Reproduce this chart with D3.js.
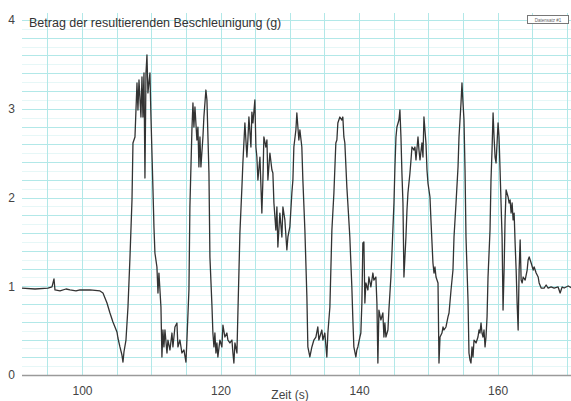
<!DOCTYPE html>
<html lang="de">
<head>
  <meta charset="UTF-8" />
  <title>Betrag der resultierenden Beschleunigung</title>
  <script src="https://d3js.org/d3.v7.min.js"></script>
  <style>
    body { margin: 0; background: #fff; }
    svg { display: block; font-family: "Liberation Sans", Arial, sans-serif; }
  </style>
</head>
<body>
  <svg width="571" height="401" id="chart"></svg>

  <script>
    // Zeit (s)
    const time = [
      91.34, 93.22, 95.09, 95.67, 95.96, 96.10, 96.83, 97.69, 98.27, 99.13,
      99.71, 101.15, 102.60, 103.03, 103.61, 104.04, 104.47, 105.05, 105.19, 105.48,
      105.77, 105.92, 106.06, 106.35, 106.64, 106.93, 107.22, 107.36, 107.65, 107.94,
      108.08, 108.23, 108.51, 108.66, 108.80, 108.95, 109.09, 109.24, 109.38, 109.52,
      109.81, 109.96, 110.25, 110.39, 110.53, 110.82, 110.97, 111.11, 111.40, 111.54,
      111.69, 111.83, 111.98, 112.27, 112.41, 112.70, 112.99, 113.13, 113.42, 113.71,
      113.85, 114.14, 114.43, 114.72, 115.01, 115.15, 115.44, 115.58, 115.87, 116.02,
      116.16, 116.31, 116.59, 116.74, 116.88, 117.03, 117.17, 117.46, 117.60, 117.89,
      118.04, 118.33, 118.47, 118.76, 118.90, 119.05, 119.19, 119.34, 119.48, 119.62,
      119.91, 120.20, 120.35, 120.63, 120.92, 121.07, 121.36, 121.65, 121.79, 121.93,
      122.08, 122.37, 122.51, 122.80, 123.09, 123.23, 123.52, 123.81, 123.95, 124.10,
      124.39, 124.53, 124.68, 124.96, 125.11, 125.25, 125.40, 125.69, 125.97, 126.12,
      126.26, 126.55, 126.70, 126.84, 127.13, 127.42, 127.56, 127.71, 127.99, 128.14,
      128.28, 128.57, 128.86, 129.01, 129.29, 129.58, 129.73, 130.01, 130.30, 130.45,
      130.59, 130.88, 131.02, 131.31, 131.46, 131.74, 131.89, 132.18, 132.47, 132.61,
      132.90, 133.19, 133.48, 133.77, 134.05, 134.20, 134.63, 134.78, 135.06, 135.35,
      135.50, 135.79, 136.08, 136.37, 136.65, 136.80, 136.94, 137.23, 137.52, 137.66,
      137.81, 137.95, 138.24, 138.38, 138.67, 138.82, 138.96, 139.11, 139.25, 139.54,
      139.68, 139.83, 140.12, 140.26, 140.41, 140.55, 140.70, 140.84, 140.99, 141.28,
      141.42, 141.71, 142.00, 142.14, 142.43, 142.58, 142.72, 142.87, 143.15, 143.44,
      143.59, 143.73, 143.88, 144.17, 144.31, 144.60, 144.75, 145.04, 145.18, 145.33,
      145.47, 145.76, 145.90, 146.05, 146.19, 146.34, 146.48, 146.77, 146.92, 147.06,
      147.35, 147.50, 147.64, 147.93, 148.07, 148.22, 148.51, 148.65, 148.80, 149.08,
      149.23, 149.37, 149.66, 149.81, 149.95, 150.24, 150.38, 150.67, 150.82, 150.96,
      151.11, 151.40, 151.54, 151.69, 151.97, 152.12, 152.26, 152.55, 152.84, 152.99,
      153.28, 153.56, 153.71, 154.00, 154.29, 154.43, 154.72, 154.86, 155.01, 155.15,
      155.30, 155.44, 155.73, 155.87, 156.02, 156.16, 156.31, 156.45, 156.60, 156.89,
      157.17, 157.32, 157.46, 157.61, 157.75, 157.90, 158.04, 158.19, 158.33, 158.48,
      158.62, 158.91, 159.05, 159.20, 159.35, 159.49, 159.64, 159.78, 160.07, 160.21,
      160.36, 160.50, 160.65, 160.79, 160.94, 161.08, 161.23, 161.52, 161.66, 161.81,
      161.95, 162.10, 162.24, 162.39, 162.53, 162.68, 162.82, 162.97, 163.11, 163.26,
      163.40, 163.55, 163.69, 163.98, 164.27, 164.41, 164.56, 164.85, 165.14, 165.28,
      165.57, 165.86, 166.00, 166.29, 166.72, 167.01, 167.30, 167.73, 168.16, 168.74,
      169.03, 169.32, 169.61, 170.19, 170.77
    ];

    // Betrag der resultierenden Beschleunigung (g)
    const accel = [
      0.980, 0.969, 0.980, 0.992, 1.082, 0.958, 0.947, 0.969, 0.958, 0.947,
      0.958, 0.958, 0.947, 0.924, 0.811, 0.699, 0.597, 0.485, 0.417, 0.316,
      0.225, 0.146, 0.259, 0.394, 0.766, 1.330, 1.972, 2.614, 2.682, 3.290,
      2.986, 3.324, 2.907, 3.358, 2.907, 3.403, 2.220, 3.403, 3.606, 3.178,
      3.403, 2.907, 2.085, 1.668, 1.375, 1.217, 0.924, 1.149, 0.766, 0.203,
      0.507, 0.316, 0.507, 0.248, 0.394, 0.282, 0.473, 0.316, 0.541, 0.586,
      0.316, 0.394, 0.248, 0.282, 0.146, 0.394, 0.958, 1.893, 2.761, 3.065,
      2.794, 3.020, 2.648, 2.794, 2.344, 2.682, 2.344, 2.682, 2.907, 3.211,
      3.099, 2.276, 1.330, 0.789, 0.473, 0.316, 0.473, 0.248, 0.361, 0.203,
      0.394, 0.316, 0.563, 0.428, 0.473, 0.394, 0.361, 0.394, 0.248, 0.135,
      0.361, 0.248, 0.699, 1.600, 2.118, 2.389, 2.840, 2.456, 2.648, 2.907,
      2.569, 2.963, 2.840, 3.099, 2.569, 2.456, 2.197, 2.456, 1.825, 2.197,
      2.682, 2.569, 2.648, 2.197, 2.501, 2.310, 2.276, 1.938, 1.634, 1.893,
      1.442, 1.825, 1.555, 1.893, 1.747, 1.409, 1.555, 1.668, 2.051, 2.197,
      2.569, 2.761, 2.952, 2.648, 2.761, 2.569, 2.197, 1.634, 0.879, 0.316,
      0.203, 0.316, 0.394, 0.428, 0.541, 0.394, 0.507, 0.394, 0.473, 0.203,
      0.473, 0.766, 1.634, 2.051, 2.614, 2.648, 2.840, 2.907, 2.873, 2.907,
      2.682, 2.614, 2.118, 1.938, 1.555, 1.262, 0.992, 0.620, 0.316, 0.203,
      0.282, 0.316, 0.428, 0.473, 0.811, 1.487, 1.499, 0.811, 1.037, 0.958,
      1.104, 0.992, 1.149, 1.070, 1.104, 0.811, 0.135, 0.732, 0.620, 0.699,
      0.428, 0.586, 0.428, 0.507, 0.732, 1.104, 1.375, 1.938, 2.344, 2.682,
      2.794, 2.873, 2.986, 2.682, 2.276, 1.938, 1.104, 1.555, 1.859, 2.051,
      2.276, 2.423, 2.569, 2.535, 2.569, 2.423, 2.682, 2.535, 2.423, 2.614,
      2.456, 2.907, 2.614, 2.310, 2.163, 2.006, 1.747, 1.262, 1.149, 1.217,
      1.104, 1.037, 0.135, 0.428, 0.473, 0.541, 0.507, 0.541, 0.654, 0.699,
      0.958, 1.183, 1.555, 1.938, 2.344, 2.682, 3.065, 3.290, 3.065, 2.873,
      2.310, 1.555, 0.845, 0.248, 0.169, 0.135, 0.316, 0.203, 0.394, 0.361,
      0.428, 0.507, 0.473, 0.586, 0.473, 0.428, 0.507, 0.316, 0.428, 0.654,
      1.104, 1.634, 2.197, 2.535, 2.952, 2.682, 2.456, 2.389, 2.840, 2.682,
      2.310, 1.938, 1.555, 0.732, 1.183, 1.747, 2.085, 2.006, 1.938, 1.972,
      1.825, 1.938, 1.747, 1.825, 1.487, 1.183, 0.811, 0.507, 1.183, 1.521,
      1.070, 1.037, 1.104, 1.070, 1.183, 1.296, 1.330, 1.262, 1.183, 1.217,
      1.149, 1.104, 1.037, 0.980, 0.980, 1.014, 0.980, 0.992, 0.980, 0.992,
      0.924, 0.992, 0.980, 1.003, 0.980
    ];

    const xTicks = [100, 120, 140, 160];
    const yTicks = [0, 1, 2, 3, 4];

    const svg = d3.select("#chart");
    const plotLeft = 22, plotRight = 571, plotBottom = 375, plotTop = 13;

    const x = d3.scaleLinear().domain([91.34, 170.6]).range([plotLeft, plotRight]);
    const y = d3.scaleLinear().domain([0, 4]).range([plotBottom, 20]);

    // grid
    const grid = svg.append("g");
    const minorY = d3.range(0, 41).map(i => i / 10);
    const majorY = d3.range(0, 21).map(i => i / 5);
    const majorX = d3.range(95, 171, 5);

    grid.selectAll(".minor-y").data(minorY).enter().append("line")
      .attr("x1", plotLeft).attr("x2", plotRight)
      .attr("y1", d => Math.round(y(d)) + 0.5).attr("y2", d => Math.round(y(d)) + 0.5)
      .attr("stroke", "#e6f7f7");

    grid.selectAll(".major-y").data(majorY).enter().append("line")
      .attr("x1", plotLeft).attr("x2", plotRight)
      .attr("y1", d => Math.round(y(d)) + 0.5).attr("y2", d => Math.round(y(d)) + 0.5)
      .attr("stroke", "#b2e8e8");

    grid.selectAll(".major-x").data(majorX).enter().append("line")
      .attr("x1", d => Math.round(x(d)) + 0.5).attr("x2", d => Math.round(x(d)) + 0.5)
      .attr("y1", plotTop).attr("y2", plotBottom)
      .attr("stroke", "#b2e8e8");

    // axes
    svg.append("line")
      .attr("x1", plotLeft).attr("x2", plotRight)
      .attr("y1", plotBottom + 0.5).attr("y2", plotBottom + 0.5)
      .attr("stroke", "#9a9a9a").attr("stroke-width", 1.5);

    const xAxis = svg.append("g")
      .attr("transform", `translate(0,${plotBottom})`)
      .call(d3.axisBottom(x).tickValues(xTicks).tickSize(0).tickPadding(11));
    xAxis.select(".domain").remove();
    xAxis.selectAll("text").attr("font-size", 12).attr("fill", "#444")
      .style("font-family", "'Liberation Sans', Arial, sans-serif");

    const yAxis = svg.append("g")
      .attr("transform", `translate(${plotLeft},0)`)
      .call(d3.axisLeft(y).tickValues(yTicks).tickFormat(d3.format("d")).tickSize(0).tickPadding(7));
    yAxis.select(".domain").remove();
    yAxis.selectAll("text").attr("font-size", 12).attr("fill", "#444")
      .style("font-family", "'Liberation Sans', Arial, sans-serif");

    svg.append("text")
      .attr("x", 290).attr("y", 398.5)
      .attr("text-anchor", "middle")
      .attr("font-size", 12).attr("fill", "#444")
      .text("Zeit (s)");

    // data line
    const line = d3.line()
      .x((d, i) => x(time[i]))
      .y(d => y(d));

    svg.append("path")
      .datum(accel)
      .attr("fill", "none")
      .attr("stroke", "#333")
      .attr("stroke-width", 1.3)
      .attr("stroke-linejoin", "round")
      .attr("d", line);

    // title and legend
    svg.append("text")
      .attr("x", 29).attr("y", 27)
      .attr("font-size", 12.5).attr("fill", "#333")
      .text("Betrag der resultierenden Beschleunigung (g)");

    svg.append("rect")
      .attr("x", 527.5).attr("y", 15.5)
      .attr("width", 41).attr("height", 8)
      .attr("fill", "#fff").attr("stroke", "#777");

    svg.append("text")
      .attr("x", 548).attr("y", 21.5)
      .attr("text-anchor", "middle")
      .attr("font-size", 4.5).attr("fill", "#666")
      .text("Datensatz #1");
  </script>
</body>
</html>
